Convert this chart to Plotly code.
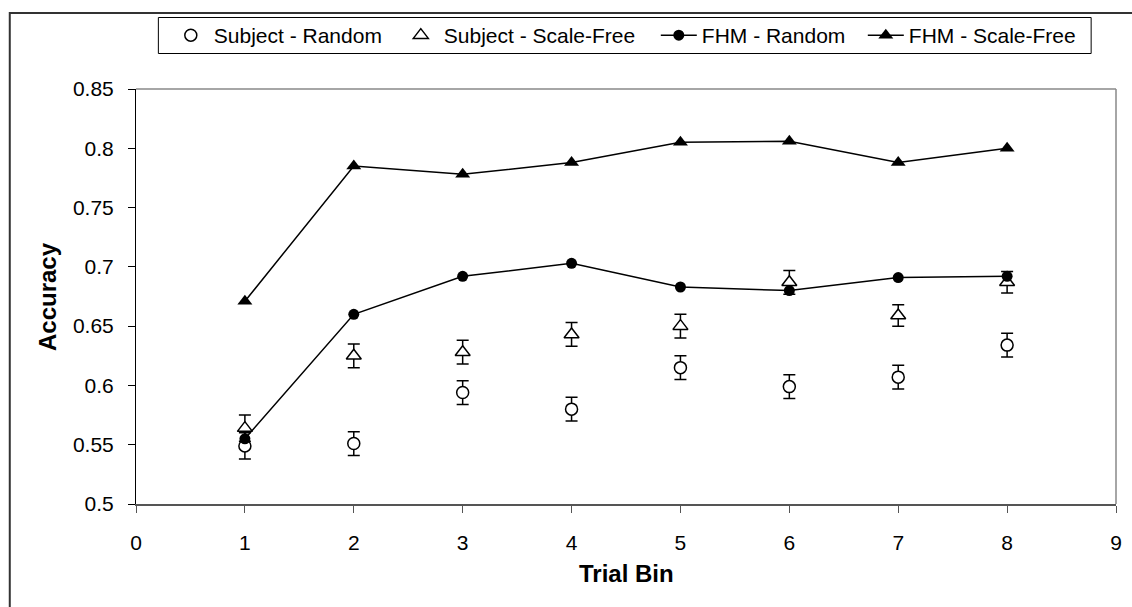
import plotly.graph_objects as go

trial_bins = [1, 2, 3, 4, 5, 6, 7, 8]
subject_random = [0.549, 0.551, 0.594, 0.580, 0.615, 0.599, 0.607, 0.634]
subject_random_err = [0.011, 0.010, 0.010, 0.010, 0.010, 0.010, 0.010, 0.010]
subject_scalefree = [0.564, 0.625, 0.628, 0.643, 0.650, 0.687, 0.659, 0.687]
subject_scalefree_err = [0.011, 0.010, 0.010, 0.010, 0.010, 0.010, 0.009, 0.009]
fhm_random = [0.555, 0.660, 0.692, 0.703, 0.683, 0.680, 0.691, 0.692]
fhm_scalefree = [0.671, 0.785, 0.778, 0.788, 0.805, 0.806, 0.788, 0.800]

x_ticks = [0, 1, 2, 3, 4, 5, 6, 7, 8, 9]
y_ticks = [0.5, 0.55, 0.6, 0.65, 0.7, 0.75, 0.8, 0.85]
y_tick_text = ["0.5", "0.55", "0.6", "0.65", "0.7", "0.75", "0.8", "0.85"]

FONT = "Liberation Sans, Arial, sans-serif"
W, H = 1132, 607
L, R, T, B = 136, 10, 89, 103
pw, ph = W - L - R, H - T - B

def px2x(px):
    return (px - L) / pw

def py2y(py):
    return (H - B - py) / ph

fig = go.Figure()
fig.add_trace(go.Scatter(
    x=trial_bins, y=subject_random, mode="markers", name="Subject - Random",
    marker=dict(symbol="circle", size=12, color="white", line=dict(color="black", width=1.5)),
    error_y=dict(type="data", array=subject_random_err, color="black", thickness=1.5, width=6),
    legendwidth=179,
))
fig.add_trace(go.Scatter(
    x=trial_bins, y=subject_scalefree, mode="markers", name="Subject - Scale-Free",
    marker=dict(symbol="triangle-up", size=13, color="white", line=dict(color="black", width=1.5)),
    error_y=dict(type="data", array=subject_scalefree_err, color="black", thickness=1.5, width=6),
    legendwidth=207,
))
fig.add_trace(go.Scatter(
    x=trial_bins, y=fhm_random, mode="lines+markers", name="FHM - Random",
    line=dict(color="black", width=1.5),
    marker=dict(symbol="circle", size=11, color="black"),
    legendwidth=156,
))
fig.add_trace(go.Scatter(
    x=trial_bins, y=fhm_scalefree, mode="lines+markers", name="FHM - Scale-Free",
    line=dict(color="black", width=1.5),
    marker=dict(symbol="triangle-up", size=13, color="black"),
    legendwidth=182,
))

shapes = [
    # outer frame
    dict(type="rect", xref="paper", yref="paper", x0=px2x(9), x1=px2x(1200), y0=py2y(13), y1=py2y(700),
         line=dict(color="#333", width=2), layer="below"),
    # legend box
    dict(type="rect", xref="paper", yref="paper", x0=px2x(158.5), x1=px2x(1097), y0=py2y(53.5), y1=py2y(17.5),
         line=dict(color="black", width=1)),
    # plot area top/right border
    dict(type="line", xref="paper", yref="paper", x0=0, x1=1, y0=1, y1=1, line=dict(color="#888", width=1.5)),
    dict(type="line", xref="paper", yref="paper", x0=1, x1=1, y0=0, y1=1, line=dict(color="#888", width=1.5)),
]

annotations = [
    dict(text="<b>Accuracy</b>", xref="paper", yref="paper", x=px2x(47), y=0.5, textangle=-90,
         showarrow=False, font=dict(family=FONT, size=24, color="black"), xanchor="center", yanchor="middle"),
    dict(text="<b>Trial Bin</b>", xref="paper", yref="paper", x=0.5, y=py2y(573),
         showarrow=False, font=dict(family=FONT, size=24, color="black"), xanchor="center", yanchor="middle"),
]

fig.update_layout(
    width=W, height=H,
    margin=dict(l=L, r=R, t=T, b=B),
    paper_bgcolor="white", plot_bgcolor="white",
    font=dict(family=FONT, size=21, color="black"),
    showlegend=True,
    legend=dict(orientation="h", x=px2x(168), xanchor="left", y=py2y(35.5), yanchor="middle",
                borderwidth=0, bgcolor="rgba(0,0,0,0)", itemwidth=36,
                font=dict(family=FONT, size=21, color="black"), tracegroupgap=0),
    shapes=shapes,
    annotations=annotations,
)
fig.update_xaxes(range=[0, 9], tickvals=x_ticks, ticktext=[str(v) for v in x_ticks],
                 showgrid=False, zeroline=False, showline=True, linecolor="#555", linewidth=2,
                 ticks="outside", ticklen=7, tickwidth=1, tickcolor="#555",
                 tickfont=dict(family=FONT, size=21, color="black"), ticklabelstandoff=12)
fig.update_yaxes(range=[0.5, 0.85], tickvals=y_ticks, ticktext=y_tick_text,
                 showgrid=False, zeroline=False, showline=True, linecolor="black", linewidth=1,
                 ticks="outside", ticklen=7, tickwidth=1, tickcolor="black",
                 tickfont=dict(family=FONT, size=21, color="black"), ticklabelstandoff=10)

fig.write_html("out.html")
